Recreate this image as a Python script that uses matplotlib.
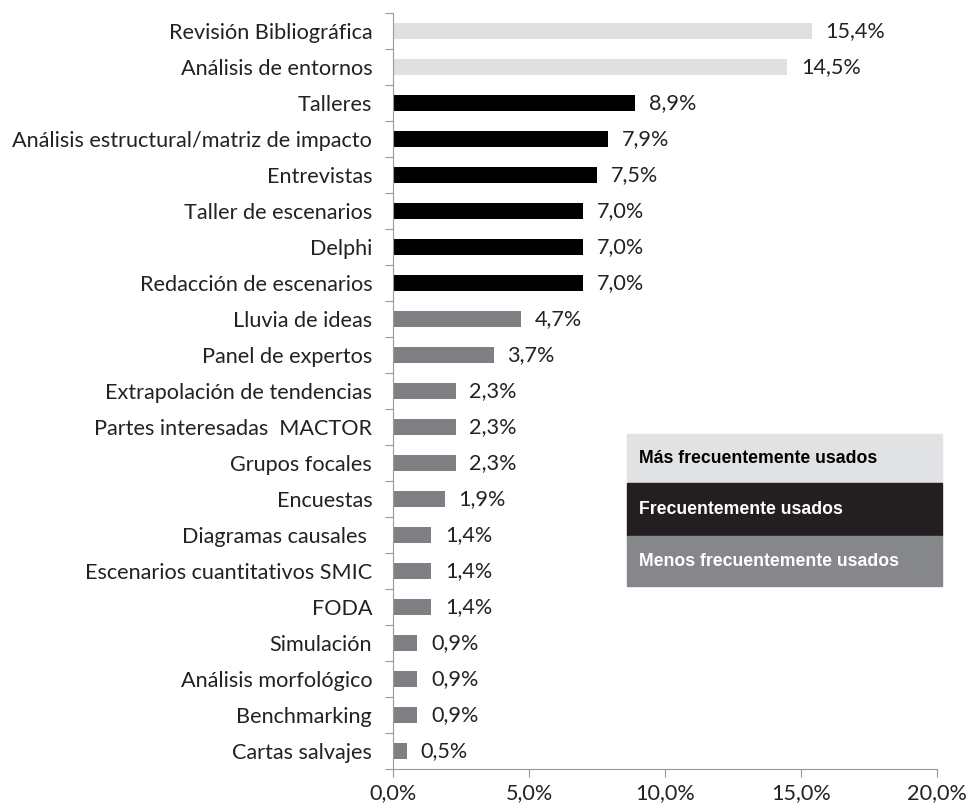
import matplotlib
matplotlib.use("Agg")
import matplotlib.pyplot as plt
from matplotlib.patches import Rectangle

# techniques and their share of use (%)
tecnicas = [
    "Revisión Bibliográfica", "Análisis de entornos", "Talleres",
    "Análisis estructural/matriz de impacto", "Entrevistas",
    "Taller de escenarios", "Delphi", "Redacción de escenarios",
    "Lluvia de ideas", "Panel de expertos", "Extrapolación de tendencias",
    "Partes interesadas  MACTOR", "Grupos focales", "Encuestas",
    "Diagramas causales ", "Escenarios cuantitativos SMIC", "FODA",
    "Simulación", "Análisis morfológico", "Benchmarking", "Cartas salvajes",
]
valores = [15.4, 14.5, 8.9, 7.9, 7.5, 7.0, 7.0, 7.0, 4.7, 3.7, 2.3,
           2.3, 2.3, 1.9, 1.4, 1.4, 1.4, 0.9, 0.9, 0.9, 0.5]
grupo = [0, 0, 1, 1, 1, 1, 1, 1] + [2] * 13

grupos = ["Más frecuentemente usados", "Frecuentemente usados",
          "Menos frecuentemente usados"]
colores_barra = ["#e0e0e2", "#000000", "#808084"]
colores_leyenda = ["#e1e2e4", "#231f20", "#86878b"]
colores_texto = ["black", "white", "white"]

plt.rcParams['font.family'] = ['Lato', 'DejaVu Sans']
fs = 15.6

fig = plt.figure(figsize=(9.71, 8.07), dpi=100)
ax = fig.add_axes([393 / 971, 1 - 769 / 807, 544 / 971, 756 / 807])

y = list(range(len(tecnicas)))
ax.barh(y, valores, height=0.42, color=[colores_barra[g] for g in grupo])
for yi, v in zip(y, valores):
    ax.text(v + 0.5, yi, f"{v:.1f}%".replace(".", ","), va="center",
            ha="left", fontsize=fs, color="#222222")

ax.set_xlim(0, 20)
ax.set_ylim(len(tecnicas) - 0.5, -0.5)
ax.set_xticks([0, 5, 10, 15, 20])
ax.set_xticklabels([f"{t:.1f}%".replace(".", ",") for t in [0, 5, 10, 15, 20]])
ax.set_yticks([i + 0.5 for i in range(-1, len(tecnicas))], minor=False)
ax.set_yticklabels([])
ax.set_yticks(y, minor=True)
ax.set_yticklabels(tecnicas, minor=True)
ax.tick_params(axis="y", which="major", length=6, color="#999999")
ax.tick_params(axis="y", which="minor", length=0, pad=15, labelsize=fs,
               labelcolor="#222222")
ax.tick_params(axis="x", length=6, color="#999999", labelsize=fs,
               labelcolor="#222222", pad=4)
for s in ["top", "right"]:
    ax.spines[s].set_visible(False)
for s in ["left", "bottom"]:
    ax.spines[s].set_color("#999999")

# legend boxes
cajas = [(434, 483), (483, 536), (536, 586)]
for (y0, y1), nombre, c, tc in zip(cajas, grupos, colores_leyenda, colores_texto):
    fig.patches.append(Rectangle((627 / 971, 1 - y1 / 807), 315 / 971,
                                 (y1 - y0) / 807, transform=fig.transFigure,
                                 color=c, zorder=3))
    fig.text(639 / 971, 1 - (y0 + y1) / 2 / 807, nombre, color=tc,
             family="Liberation Sans", weight="bold", fontsize=12.7,
             va="center", ha="left", zorder=4)

fig.savefig("out.png", dpi=100)
